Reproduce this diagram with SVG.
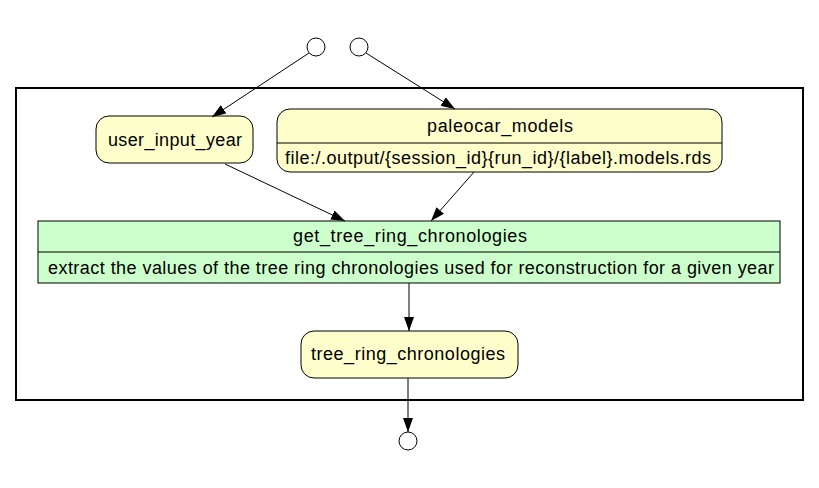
<svg xmlns="http://www.w3.org/2000/svg" width="819" height="488" viewBox="0 0 819 488">
<defs>
<marker id="ah" markerWidth="14" markerHeight="10" refX="14" refY="5" orient="auto" markerUnits="userSpaceOnUse">
<path d="M0,0 L14,5 L0,10 Z" fill="#000"/>
</marker>
<style>
text{font-family:"Liberation Sans",Arial,sans-serif;font-size:18px;fill:#000;text-anchor:middle}
.y{fill:#ffffcc;stroke:#000;stroke-width:1}
.g{fill:#ccffcc;stroke:#000;stroke-width:1}
.c{fill:#fff;stroke:#000;stroke-width:1}
.e{stroke:#000;stroke-width:1;fill:none;marker-end:url(#ah)}
</style>
</defs>
<rect width="819" height="488" fill="#fff"/>
<rect id="frame" x="16" y="88" width="787" height="312" fill="none" stroke="#000" stroke-width="2"/>
<g id="in1"><circle class="c" cx="316" cy="47" r="9"/></g>
<g id="in2"><circle class="c" cx="359" cy="47" r="9"/></g>
<g id="out1"><circle class="c" cx="408" cy="441" r="9"/></g>
<g id="user_input_year">
<rect class="y" x="96" y="116" width="157" height="47" rx="13"/>
<text x="175" y="146" textLength="134">user_input_year</text>
</g>
<g id="paleocar_models">
<rect class="y" x="277" y="109" width="445" height="63" rx="13"/>
<line x1="277" y1="143" x2="722" y2="143" stroke="#000"/>
<text x="500" y="132" textLength="146">paleocar_models</text>
<text x="498" y="164" textLength="426">file:/.output/{session_id}{run_id}/{label}.models.rds</text>
</g>
<g id="get_tree_ring_chronologies">
<rect class="g" x="38" y="221" width="742" height="62"/>
<line x1="38" y1="252" x2="780" y2="252" stroke="#000"/>
<text x="410" y="242" textLength="234">get_tree_ring_chronologies</text>
<text x="411" y="274" textLength="726">extract the values of the tree ring chronologies used for reconstruction for a given year</text>
</g>
<g id="tree_ring_chronologies">
<rect class="y" x="301" y="331" width="217" height="47" rx="13"/>
<text x="408" y="360" textLength="194">tree_ring_chronologies</text>
</g>
<g id="edges">
<line class="e" x1="309" y1="53" x2="212" y2="117"/>
<line class="e" x1="366" y1="53" x2="455" y2="109"/>
<line class="e" x1="225" y1="164" x2="345" y2="221"/>
<line class="e" x1="474" y1="172" x2="431" y2="221"/>
<line class="e" x1="409" y1="283" x2="409" y2="331"/>
<line class="e" x1="408" y1="378" x2="408" y2="432"/>
</g>
</svg>
